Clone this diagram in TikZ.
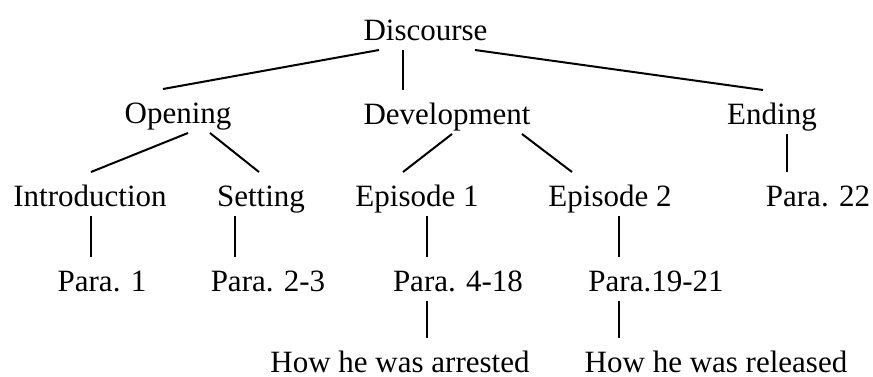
\documentclass[tikz,border=0pt]{standalone}
\usepackage{fontspec}
\setmainfont{Liberation Serif}
\usepackage{tikz}
\usetikzlibrary{positioning}

\begin{document}
\begin{tikzpicture}[x=0.5pt, y=-0.5pt, line width=1pt]
    \tikzstyle{part} = [anchor=base, text height=12pt, text depth=0pt,
    inner xsep=0pt, inner ysep=4.5pt, font=\fontsize{15.5}{18}\selectfont]
    \useasboundingbox (0,0) rectangle (873,376);
    % top level
    \node [part] at (425.5,40) (discourse) {Discourse};
    \node [part] at (178,123) (opening) {Opening};
    \node [part] at (447,124) (development) {Development};
    \node [part] at (772,124) (ending) {Ending};
    % second level
    \node [part] at (90,206) (intro) {Introduction};
    \node [part] at (261,206) (setting) {Setting};
    \node [part] at (417,206) (episodeone) {Episode 1};
    \node [part] at (610,206) (episodetwo) {Episode 2};
    \node [part] at (818,206) (paraend) {Para. 22};
    % paragraphs
    \node [part] at (102,291) (paraintro) {Para. 1};
    \node [part] at (268,291) (parasetting) {Para. 2-3};
    \node [part] at (458,291) (paraone) {Para. 4-18};
    \node [part] at (656,291) (paratwo) {Para.19-21};
    \node [part] at (400,372) (arrested) {How he was arrested};
    \node [part] at (716,372) (released) {How he was released};
    \draw ([xshift=-23.25pt]discourse.south) -- ([xshift=-7.5pt]opening.north);
    \draw ([xshift=-11.25pt]discourse.south) -- ([xshift=-22pt]development.north);
    \draw ([xshift=24.75pt]discourse.south) -- ([xshift=-4.5pt]ending.north);
    \draw ([xshift=5pt]opening.south) -- ([xshift=0.5pt]intro.north);
    \draw ([xshift=16pt]opening.south) -- ([xshift=-1pt]setting.north);
    \draw ([xshift=2.5pt]development.south) -- ([xshift=-7pt]episodeone.north);
    \draw ([xshift=37.5pt]development.south) -- ([xshift=-19pt]episodetwo.north);
    \draw ([xshift=7.5pt]ending.south) -- ([xshift=-15.5pt]paraend.north);
    \draw ([xshift=0.5pt]intro.south) -- ([xshift=-5.5pt]paraintro.north);
    \draw ([xshift=-13pt]setting.south) -- ([xshift=-16.5pt]parasetting.north);
    \draw ([xshift=5pt]episodeone.south) -- ([xshift=-15.5pt]paraone.north);
    \draw ([xshift=4.5pt]episodetwo.south) -- ([xshift=-18.5pt]paratwo.north);
    \draw ([xshift=-15.5pt]paraone.south) -- ([xshift=13.5pt]arrested.north);
    \draw ([xshift=-18.5pt]paratwo.south) -- ([xshift=-48.5pt]released.north);
\end{tikzpicture}
\end{document}
